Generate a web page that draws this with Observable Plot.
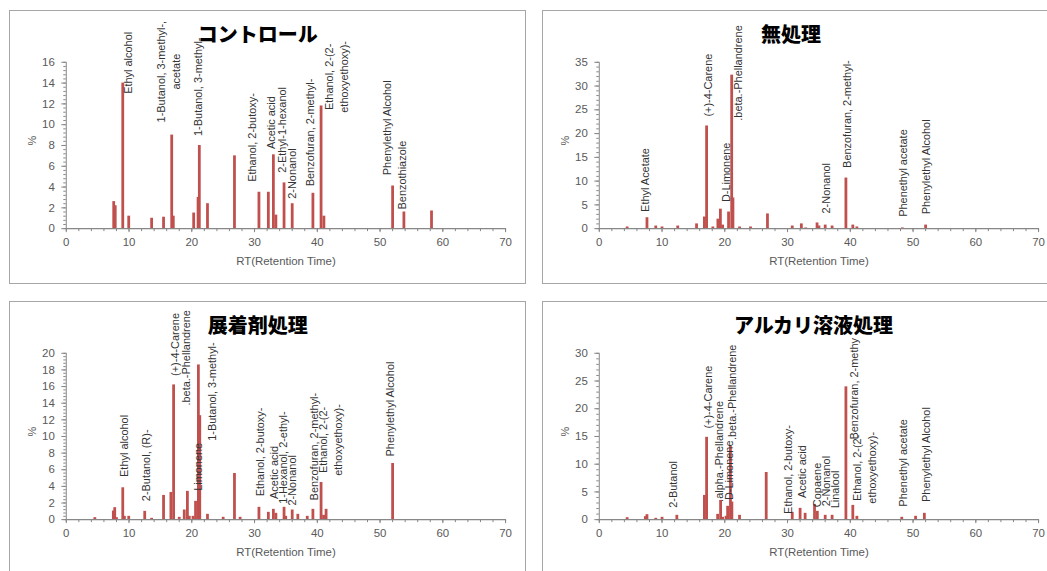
<!DOCTYPE html>
<html>
<head>
<meta charset="utf-8">
<script src="https://cdn.jsdelivr.net/npm/d3@7"></script>
<script src="https://cdn.jsdelivr.net/npm/@observablehq/plot@0.6"></script>
<style>
  html, body { margin: 0; padding: 0; background: #fff; }
  #wrap { position: relative; width: 1047px; height: 571px; overflow: hidden; background: #fff; }
  .frame { position: absolute; box-sizing: border-box; border: 1px solid #a6a6a6; background: #fff; }
  .frame svg { position: absolute; left: -1px; top: -1px; overflow: visible; }
  .title { position: absolute; transform: translate(-50%, -50%); font-family: "Noto Sans CJK JP", sans-serif;
           font-weight: 900; font-size: 20px; color: #000; white-space: nowrap; line-height: 1; }
</style>
</head>
<body>
<div id="wrap"></div>
<script>
// ---------- Panel 1: コントロール ----------
const title1 = "コントロール";
const rt1  = [7.56, 7.8, 9.0, 9.95, 13.6, 15.5, 16.8, 17.05, 20.3, 21.0, 21.2, 22.5, 26.8, 30.7, 32.2, 33.0, 33.4, 34.7, 36.0, 39.3, 40.6, 41.05, 52.0, 53.8, 58.2];
const pct1 = [2.6, 2.2, 14.0, 1.2, 1.0, 1.1, 9.0, 1.2, 1.5, 3.0, 8.0, 2.4, 7.0, 3.5, 3.5, 7.1, 1.3, 4.4, 2.4, 3.4, 11.8, 1.2, 4.1, 1.6, 1.7];
const names1 = ["Ethyl alcohol", "1-Butanol, 3-methyl-,\nacetate", "1-Butanol, 3-methyl-", "Ethanol, 2-butoxy-", "Acetic acid", "2-Ethyl-1-hexanol", "2-Nonanol", "Benzofuran, 2-methyl-", "Ethanol, 2-(2-\nethoxyethoxy)-", "Phenylethyl Alcohol", "Benzothiazole"];
const labelRT1 = [9.68, 16.2, 20.8, 29.5, 32.5, 34.3, 35.76, 38.7, 42.9, 50.95, 53.3];
const labelLv1 = [15.95, 15.1, 13.65, 8.77, 10.2, 9.5, 5.3, 9.25, 14.6, 9.7, 5.15];

// ---------- Panel 2: 無処理 ----------
const title2 = "無処理";
const rt2  = [4.44, 7.6, 9.0, 10.0, 12.5, 15.5, 16.75, 17.1, 18.1, 18.9, 19.3, 19.65, 20.6, 21.1, 21.3, 22.35, 24.1, 26.8, 30.75, 32.2, 32.9, 34.7, 35.0, 36.0, 37.1, 39.3, 40.4, 41.05, 48.3, 52.0];
const pct2 = [0.35, 2.3, 0.55, 0.35, 0.55, 1.0, 2.45, 21.6, 0.35, 2.0, 4.1, 0.75, 3.5, 32.3, 6.45, 0.35, 0.35, 3.1, 0.55, 1.0, 0.15, 1.2, 0.55, 0.75, 0.55, 10.65, 0.75, 0.35, 0.15, 0.75];
const names2 = ["Ethyl Acetate", "(+)-4-Carene", "D-Limonene", ".beta.-Phellandrene", "2-Nonanol", "Benzofuran, 2-methyl-", "Phenethyl acetate", "Phenylethyl Alcohol"];
const labelRT2 = [7.08, 17.17, 20.0, 22.0, 36.0, 39.35, 48.3, 51.9];
const labelLv2 = [10.24, 30.2, 11.85, 32.75, 8.5, 24.1, 11.7, 13.0];

// ---------- Panel 3: 展着剤処理 ----------
const title3 = "展着剤処理";
const rt3  = [4.55, 7.5, 7.72, 8.0, 9.0, 9.26, 9.95, 12.5, 13.6, 15.5, 16.67, 17.1, 18.0, 18.8, 19.3, 19.6, 20.2, 20.6, 21.05, 21.27, 22.5, 25.0, 26.8, 27.7, 30.7, 32.2, 33.0, 33.4, 34.7, 34.97, 36.0, 36.9, 38.4, 39.3, 40.6, 41.0, 41.4, 52.0];
const pct3 = [0.24, 1.04, 1.44, 0.24, 3.83, 0.4, 0.4, 1.0, 0.16, 2.91, 3.27, 16.2, 0.28, 1.16, 3.4, 0.4, 0.4, 2.2, 18.6, 12.5, 0.64, 0.28, 5.55, 0.28, 1.48, 0.88, 1.24, 0.76, 1.48, 0.4, 1.16, 0.64, 0.4, 1.24, 4.47, 0.52, 1.24, 6.75];
const names3 = ["Ethyl alcohol", "2-Butanol, (R)-", "(+)-4-Carene", ".beta.-Phellandrene", "Limonene", "1-Butanol, 3-methyl-", "Ethanol, 2-butoxy-", "Acetic acid", "1-Hexanol, 2-ethyl-", "2-Nonanol", "Benzofuran, 2-methyl-", "Ethanol, 2-(2-\nethoxyethoxy)-", "Phenylethyl Alcohol"];
const labelRT3 = [9.05, 12.5, 17.25, 18.9, 20.8, 23.07, 30.8, 32.96, 34.4, 35.77, 39.4, 42.0, 51.5];
const labelLv3 = [8.86, 6.53, 21.06, 19.46, 6.35, 15.4, 8.14, 5.67, 7.46, 4.73, 8.78, 9.58, 13.3];

// ---------- Panel 4: アルカリ溶液処理 ----------
const title4 = "アルカリ溶液処理";
const rt4  = [4.44, 7.34, 7.6, 9.0, 10.0, 12.36, 16.75, 17.1, 18.86, 19.33, 19.65, 20.2, 20.45, 20.9, 21.13, 22.35, 26.6, 30.75, 32.0, 32.8, 34.3, 34.75, 36.0, 37.1, 39.3, 40.4, 41.05, 48.2, 50.4, 51.8];
const pct4 = [0.36, 0.54, 0.9, 0.24, 0.42, 0.78, 4.37, 14.85, 0.96, 3.47, 0.42, 0.6, 2.4, 13.2, 3.17, 0.78, 8.5, 1.32, 2.04, 1.14, 2.75, 1.5, 0.78, 0.78, 23.95, 2.57, 0.6, 0.42, 0.6, 1.14];
const names4 = ["2-Butanol", "(+)-4-Carene", ".alpha.-Phellandrene", "D-Limonene", ".beta.-Phellandrene", "Ethanol, 2-butoxy-", "Acetic acid", "Copaene", "2-Nonanol", "Linalool", "Benzofuran, 2-methy", "Ethanol, 2-(2-\nethoxyethoxy)-", "Phenethyl acetate", "Phenylethyl Alcohol"];
const labelRT4 = [11.57, 17.17, 18.96, 20.55, 21.08, 29.95, 32.2, 34.6, 36.0, 37.35, 40.5, 42.1, 48.2, 51.9];
const labelLv4 = [6.35, 22.1, 12.3, 8.9, 22.96, 9.04, 8.65, 6.26, 6.95, 5.45, 23.6, 9.35, 10.24, 11.74];

const xLabel = "RT(Retention Time)";
const yLabel = "%";

const panels = [
  {title: title1, rt: rt1, pct: pct1, names: names1, lx: labelRT1, ly: labelLv1, ymax: 16, step: 2, left: 9,   top: 10,  tc: 247.7},
  {title: title2, rt: rt2, pct: pct2, names: names2, lx: labelRT2, ly: labelLv2, ymax: 35, step: 5, left: 542, top: 10,  tc: 248},
  {title: title3, rt: rt3, pct: pct3, names: names3, lx: labelRT3, ly: labelLv3, ymax: 20, step: 2, left: 9,   top: 301, tc: 247.7},
  {title: title4, rt: rt4, pct: pct4, names: names4, lx: labelRT4, ly: labelLv4, ymax: 30, step: 5, left: 542, top: 301, tc: 270.5}
];

const W = 517, H = 274;
const wrap = document.getElementById("wrap");

for (const p of panels) {
  const bars = p.rt.map((x, i) => ({rt: x, pct: p.pct[i]}));
  const labels = p.names.map((t, i) => ({t, x: p.lx[i], y: p.ly[i]}));
  const axisColor = "#868686";
  const textColor = "#595959";
  const chart = Plot.plot({
    width: W, height: H,
    marginLeft: 57, marginRight: 19, marginTop: 52, marginBottom: 55,
    x: {domain: [0, 70]},
    y: {domain: [0, p.ymax]},
    style: {fontFamily: "'Liberation Sans', Arial, sans-serif", fontSize: "11px", background: "transparent", overflow: "visible"},
    marks: [
      Plot.axisY({ticks: d3.range(0, p.ymax + 1e-9, p.step / 5), tickSize: 2.5, text: null, label: null, stroke: axisColor}),
      Plot.axisY({ticks: d3.range(0, p.ymax + 1e-9, p.step), tickSize: 4.5, tickPadding: 7, label: null, stroke: axisColor, fill: textColor, fontSize: 11.5}),
      Plot.axisX({ticks: d3.range(0, 71, 2), tickSize: 3, text: null, label: null, stroke: axisColor}),
      Plot.axisX({ticks: d3.range(0, 71, 10), tickSize: 4, tickPadding: 5, label: null, stroke: axisColor, fill: textColor, fontSize: 11.5}),
      Plot.ruleX([0], {stroke: axisColor}),
      Plot.ruleY([0], {stroke: axisColor}),
      Plot.ruleX(bars, {x: "rt", y1: 0, y2: "pct", stroke: "#C0504D", strokeWidth: 2.8}),
      Plot.ruleY([0], {stroke: axisColor}),
      Plot.text(labels, {x: "x", y: "y", text: "t", rotate: -90, textAnchor: "middle", lineAnchor: "middle", lineHeight: 1.38, fill: "#333333", fontSize: 11}),
      Plot.text([yLabel], {frameAnchor: "left", dx: -34, rotate: -90, fill: textColor, fontSize: 11}),
      Plot.text([xLabel], {frameAnchor: "bottom", dy: 33, lineAnchor: "middle", fill: textColor, fontSize: 11.5})
    ]
  });
  const frame = document.createElement("div");
  frame.className = "frame";
  frame.style.left = p.left + "px";
  frame.style.top = p.top + "px";
  frame.style.width = W + "px";
  frame.style.height = H + "px";
  frame.appendChild(chart);
  const t = document.createElement("div");
  t.className = "title";
  t.textContent = p.title;
  t.style.left = p.tc + "px";
  t.style.top = "23px";
  frame.appendChild(t);
  wrap.appendChild(frame);
}
</script>
</body>
</html>
